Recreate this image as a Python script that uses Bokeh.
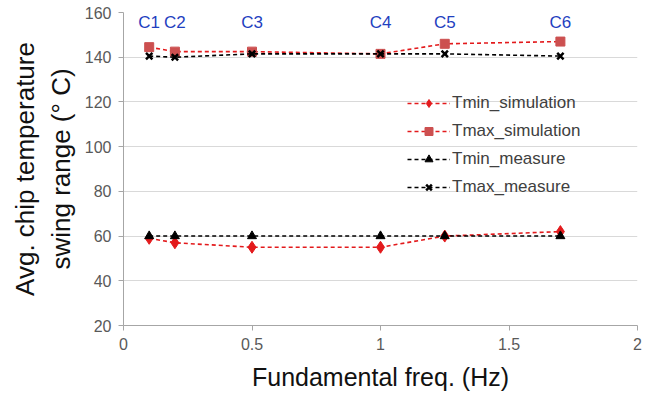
from bokeh.plotting import figure
from bokeh.models import Range1d, Legend, LegendItem, FixedTicker, ColumnDataSource, LabelSet
from bokeh.core.properties import value
from bokeh.embed import file_html
from bokeh.resources import INLINE

freq = [0.1, 0.2, 0.5, 1.0, 1.25, 1.7]
case_labels = ["C1", "C2", "C3", "C4", "C5", "C6"]
tmin_sim = [59, 57, 55, 55, 60, 62]
tmax_sim = [144.5, 142.5, 142.5, 141.5, 146, 147]
tmin_meas = [60, 60, 60, 60, 60, 60]
tmax_meas = [140.5, 140, 141.5, 141.5, 141.5, 140.5]
label_y = [155.5] * 6

p = figure(width=654, height=400, output_backend="svg", toolbar_location=None,
           x_range=Range1d(0, 2), y_range=Range1d(20, 160),
           min_border_left=123, min_border_right=17, min_border_top=12, min_border_bottom=75)
p.outline_line_color = None
p.xgrid.grid_line_color = None
p.ygrid.grid_line_color = "#d9d9d9"
p.xaxis.ticker = FixedTicker(ticks=[0, 0.5, 1, 1.5, 2])
p.yaxis.ticker = FixedTicker(ticks=list(range(20, 161, 20)))
p.xaxis.major_label_overrides = {0: "0", 0.5: "0.5", 1: "1", 1.5: "1.5", 2: "2"}
for ax in (p.xaxis, p.yaxis):
    ax.axis_line_color = "#a6a6a6"
    ax.major_tick_line_color = "#a6a6a6"
    ax.minor_tick_line_color = None
    ax.major_tick_in = 0
    ax.major_tick_out = 5
    ax.major_label_text_font = "Liberation Sans"
    ax.major_label_text_font_size = "16px"
    ax.major_label_text_color = "#595959"
    ax.major_label_standoff = 7
    ax.axis_label_text_font = "Liberation Sans"
    ax.axis_label_text_font_style = "normal"
    ax.axis_label_text_color = "#111111"
p.xaxis.axis_label_text_font_size = "25px"
p.yaxis.axis_label_text_font_size = "26px"
p.xaxis.axis_label = "Fundamental freq. (Hz)"
p.yaxis.axis_label = "Avg. chip temperature\nswing range (\u00b0 C)"
p.xaxis.axis_label_standoff = 10
p.yaxis.axis_label_standoff = 6

red = "#e31a1c"
sq = "#cc5050"
r1 = p.line(freq, tmin_sim, line_color=red, line_dash="4 3", line_width=1.6)
s1 = p.scatter(freq, tmin_sim, marker="diamond", size=12, color=red)
r2 = p.line(freq, tmax_sim, line_color=red, line_dash="4 3", line_width=1.6)
s2 = p.scatter(freq, tmax_sim, marker="square", size=9, color=sq)
r3 = p.line(freq, tmin_meas, line_color="black", line_dash="4 3", line_width=1.6)
s3 = p.scatter(freq, tmin_meas, marker="triangle", size=9, color="black")
r4 = p.line(freq, tmax_meas, line_color="black", line_dash="4 3", line_width=1.6)
s4 = p.scatter(freq, tmax_meas, marker="x", size=9, line_color="black", line_width=2.5)

src = ColumnDataSource(dict(x=freq, y=label_y, t=case_labels))
p.add_layout(LabelSet(x="x", y="y", text="t", source=src, text_align="center",
                      text_baseline="middle", text_color="#1f3fbf",
                      text_font=value("Liberation Sans"), text_font_size="17px"))

legend = Legend(items=[
    LegendItem(label="Tmin_simulation", renderers=[r1, s1]),
    LegendItem(label="Tmax_simulation", renderers=[r2, s2]),
    LegendItem(label="Tmin_measure", renderers=[r3, s3]),
    LegendItem(label="Tmax_measure", renderers=[r4, s4]),
], location=(284, 128))
legend.background_fill_alpha = 0
legend.border_line_color = None
legend.label_text_font = "Liberation Sans"
legend.label_text_font_size = "17px"
legend.label_text_color = "#404040"
legend.glyph_width = 43
legend.glyph_height = 20
legend.label_height = 20
legend.spacing = 8
legend.label_standoff = 2
p.add_layout(legend)

open("out.html", "w").write(file_html(p, INLINE))
